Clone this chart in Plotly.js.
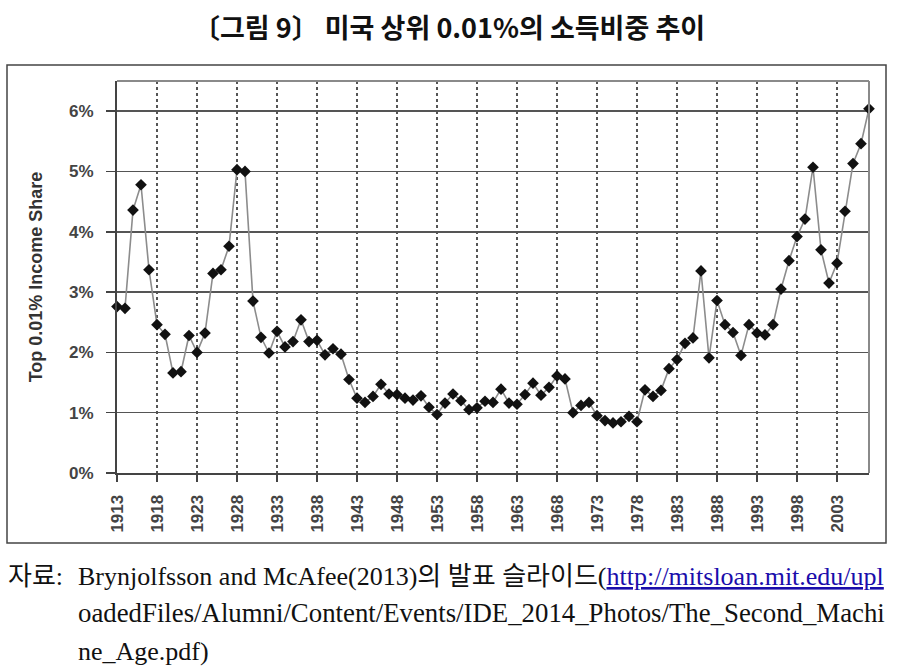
<!DOCTYPE html>
<html>
<head>
<meta charset="utf-8">
<script src="https://cdn.plot.ly/plotly-3.0.1.min.js"></script>
<style>html,body{margin:0;padding:0;background:#fff;}</style>
</head>
<body>
<div id="chart" style="width:898px;height:669px;"></div>
<script>
const chartTitle = "〔그림 9〕 미국 상위 0.01%의 소득비중 추이";
const yTitle = "Top 0.01% Income Share";
const years = [1913,1914,1915,1916,1917,1918,1919,1920,1921,1922,1923,1924,1925,1926,1927,1928,1929,1930,1931,1932,1933,1934,1935,1936,1937,1938,1939,1940,1941,1942,1943,1944,1945,1946,1947,1948,1949,1950,1951,1952,1953,1954,1955,1956,1957,1958,1959,1960,1961,1962,1963,1964,1965,1966,1967,1968,1969,1970,1971,1972,1973,1974,1975,1976,1977,1978,1979,1980,1981,1982,1983,1984,1985,1986,1987,1988,1989,1990,1991,1992,1993,1994,1995,1996,1997,1998,1999,2000,2001,2002,2003,2004,2005,2006,2007];
const shares = [2.76,2.73,4.36,4.78,3.37,2.46,2.30,1.66,1.68,2.28,2.00,2.32,3.31,3.37,3.76,5.03,5.00,2.85,2.25,1.99,2.35,2.09,2.18,2.54,2.18,2.20,1.96,2.06,1.97,1.55,1.24,1.17,1.27,1.47,1.31,1.30,1.24,1.21,1.28,1.09,0.97,1.16,1.31,1.20,1.05,1.08,1.19,1.17,1.39,1.16,1.14,1.30,1.49,1.29,1.42,1.61,1.56,1.00,1.12,1.17,0.95,0.87,0.83,0.85,0.94,0.85,1.38,1.27,1.37,1.73,1.88,2.15,2.24,3.35,1.91,2.86,2.46,2.33,1.95,2.46,2.32,2.29,2.46,3.05,3.52,3.92,4.21,5.07,3.70,3.15,3.48,4.34,5.13,5.46,6.04];
const xTickYears = [1913,1918,1923,1928,1933,1938,1943,1948,1953,1958,1963,1968,1973,1978,1983,1988,1993,1998,2003];
const yTickVals = [0,1,2,3,4,5,6];
const yTickText = ["0%","1%","2%","3%","4%","5%","6%"];
const sourceLabel = "자료:";
const sourceLine1 = "Brynjolfsson and McAfee(2013)의 발표 슬라이드(";
const sourceUrl1 = "http://mitsloan.mit.edu/upl";
const sourceLine2 = "oadedFiles/Alumni/Content/Events/IDE_2014_Photos/The_Second_Machi";
const sourceLine3 = "ne_Age.pdf)";

// geometry helpers (pixels -> paper)
const W = 898, H = 669, L = 117, R = 29, T = 81, B = 196;
const PW = W - L - R, PH = H - T - B;
const px = v => (v - L) / PW;
const py = v => (H - B - v) / PH;

const tickFont = {family: "Liberation Sans, Arial, sans-serif", size: 17, color: "#444", weight: "bold"};
const capFont = {family: "Liberation Serif, 'Noto Sans CJK KR', serif", size: 26, color: "#111"};
const capFont2 = Object.assign({}, capFont, {size: 26.8});

const trace = {
  x: years, y: shares, type: "scatter", mode: "lines+markers",
  line: {color: "#8c8c8c", width: 1.6},
  marker: {symbol: "diamond", size: 9, color: "#111", line: {width: 0}},
  cliponaxis: false, hoverinfo: "x+y"
};

const layout = {
  width: W, height: H,
  margin: {l: L, r: R, t: T, b: B, pad: 0},
  paper_bgcolor: "#fff", plot_bgcolor: "#fff",
  showlegend: false,
  title: {text: chartTitle, x: 0.5, xref: "container", xanchor: "center",
          y: 1 - 29/H, yref: "container", yanchor: "middle",
          font: {family: "'Noto Sans CJK KR', sans-serif", size: 27, color: "#111", weight: "bold"}},
  xaxis: {
    range: [1913, 2007], tickmode: "array", tickvals: xTickYears, ticktext: xTickYears.map(String),
    tickangle: -90, tickfont: tickFont, ticks: "outside", ticklen: 7, tickwidth: 1.5, tickcolor: "#444",
    ticklabelstandoff: 6,
    showgrid: true, gridcolor: "#555", gridwidth: 1.5, griddash: "dot",
    showline: true, linecolor: "#444", linewidth: 2, zeroline: false, automargin: false, fixedrange: true
  },
  yaxis: {
    range: [0, 6.5], tickmode: "array", tickvals: yTickVals, ticktext: yTickText,
    tickfont: tickFont, ticks: "outside", ticklen: 9, tickwidth: 1.5, tickcolor: "#444",
    ticklabelstandoff: 9,
    showgrid: true, gridcolor: "#555", gridwidth: 1.5,
    showline: true, linecolor: "#444", linewidth: 2, zeroline: false, automargin: false, fixedrange: true,
    title: {text: yTitle, standoff: 22, font: {family: "Liberation Sans, Arial, sans-serif", size: 18, color: "#333", weight: "bold"}}
  },
  shapes: [
    {type: "line", xref: "paper", yref: "paper", x0: 0, x1: 1, y0: 1, y1: 1, line: {color: "#8a8a8a", width: 2}},
    {type: "line", xref: "paper", yref: "paper", x0: 1, x1: 1, y0: 0, y1: 1, line: {color: "#8a8a8a", width: 2}},
    {type: "rect", xref: "paper", yref: "paper", x0: px(7), x1: px(886), y0: py(543), y1: py(65),
     line: {color: "#444", width: 1.5}, fillcolor: "rgba(0,0,0,0)", layer: "below"}
  ],
  annotations: [
    {text: sourceLabel, xref: "paper", yref: "paper", x: px(6), y: py(576), xanchor: "left", yanchor: "middle",
     showarrow: false, font: capFont},
    {text: sourceLine1 + '<span style="color:#1a0dab;text-decoration:underline">' + sourceUrl1 + '</span>',
     xref: "paper", yref: "paper", x: px(76), y: py(576), xanchor: "left", yanchor: "middle",
     showarrow: false, font: capFont},
    {text: sourceLine2, xref: "paper", yref: "paper", x: px(76), y: py(613), xanchor: "left", yanchor: "middle",
     showarrow: false, font: capFont2},
    {text: sourceLine3, xref: "paper", yref: "paper", x: px(76), y: py(651), xanchor: "left", yanchor: "middle",
     showarrow: false, font: capFont}
  ]
};

Plotly.newPlot("chart", [trace], layout, {staticPlot: true, displayModeBar: false});
</script>
</body>
</html>
